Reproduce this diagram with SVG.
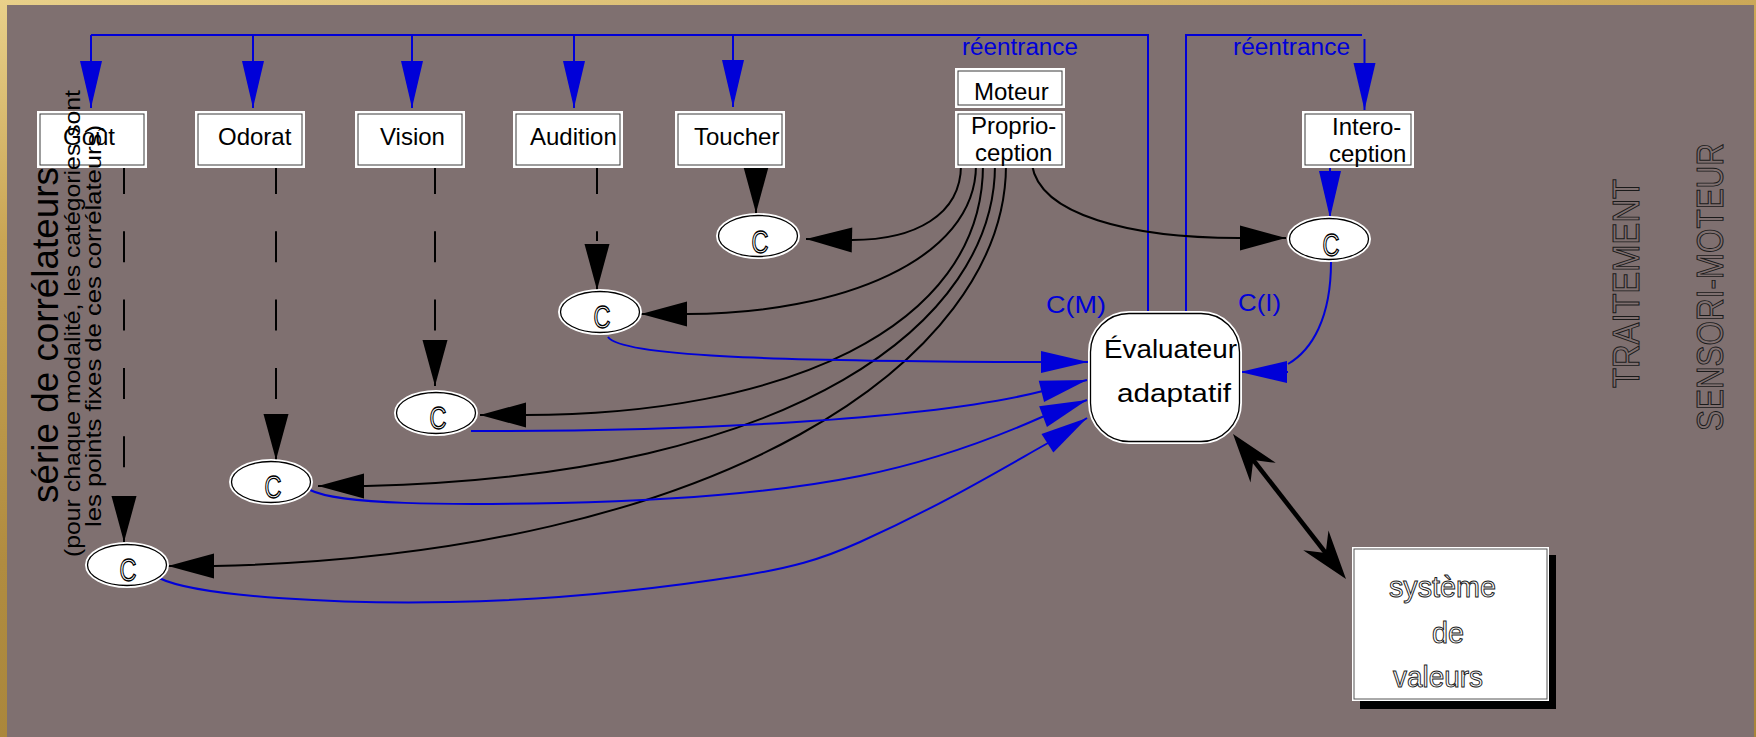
<svg xmlns="http://www.w3.org/2000/svg" width="1756" height="737" viewBox="0 0 1756 737">
  <defs>
    <linearGradient id="gold" x1="0" y1="0" x2="0.3" y2="1">
      <stop offset="0" stop-color="#e8d08a"/>
      <stop offset="0.3" stop-color="#c9a554"/>
      <stop offset="0.7" stop-color="#b08c40"/>
      <stop offset="1" stop-color="#a8853a"/>
    </linearGradient>
    <marker id="ah-blue" markerUnits="userSpaceOnUse" markerWidth="50" markerHeight="24" viewBox="-48 -12 50 24" refX="0" refY="0" orient="auto" overflow="visible">
      <path d="M-47,-11 L0,0 L-47,11 Z" fill="#0000d8"/>
    </marker>
    <marker id="ah-black" markerUnits="userSpaceOnUse" markerWidth="50" markerHeight="28" viewBox="-48 -14 50 28" refX="0" refY="0" orient="auto" overflow="visible">
      <path d="M-46,-12.5 L0,0 L-46,12.5 Z" fill="#000"/>
    </marker>
    <marker id="ah-barb" markerUnits="userSpaceOnUse" markerWidth="60" markerHeight="40" viewBox="-40 -20 60 40" refX="0" refY="0" orient="auto-start-reverse" overflow="visible">
      <path d="M12,0 L-37,-16 L-21,0 L-37,16 Z" fill="#000"/>
    </marker>
  </defs>
  <style>
    .txt { font-family: "Liberation Sans", Arial, sans-serif; fill: #000; }
    .lbl { font-size: 24px; }
    .box { fill: #fff; stroke: #fff; stroke-width: 2; }
    .frame { fill: none; stroke: #3a3a3a; stroke-width: 1; }
    .cell { fill: #fff; stroke: #fff; stroke-width: 2; }
    .cell-in { fill: none; stroke: #000; stroke-width: 1.3; }
    .cglyph { font-family: "Liberation Sans", Arial, sans-serif; font-size: 31px; fill: #fff; stroke: #000; stroke-width: 1.3; }
    .blue { fill: none; stroke: #0000d8; stroke-width: 2; }
    .blk { fill: none; stroke: #000; stroke-width: 2; }
    .dash { fill: none; stroke: #000; stroke-width: 2; stroke-dasharray: 31 37.3; }
    .bluetxt { font-family: "Liberation Sans", Arial, sans-serif; fill: #0000d8; }
    .outline { font-family: "Liberation Sans", Arial, sans-serif; fill: #fff; stroke: #222; stroke-width: 1; }
    .outline-bg { font-family: "Liberation Sans", Arial, sans-serif; fill: #7f7070; stroke: #1a1a1a; stroke-width: 1; }
  </style>

  <!-- frame and panel -->
  <rect x="0" y="0" width="1756" height="737" fill="url(#gold)"/>
  <rect x="7" y="5" width="1747" height="732" fill="#7f7070"/>

  <!-- connectors -->
  <g id="connectors">
    <!-- reentrance towards the sensory modalities -->
    <path class="blue" d="M1148,312 V35 H91"/>
    <path class="blue" d="M91,35 V108" marker-end="url(#ah-blue)"/>
    <path class="blue" d="M253,35 V108" marker-end="url(#ah-blue)"/>
    <path class="blue" d="M412,35 V108" marker-end="url(#ah-blue)"/>
    <path class="blue" d="M574,35 V108" marker-end="url(#ah-blue)"/>
    <path class="blue" d="M733,35 V107" marker-end="url(#ah-blue)"/>
    <!-- reentrance towards interoception -->
    <path class="blue" d="M1186,312 V35 H1362"/>
    <path class="blue" d="M1364.5,39 V110" marker-end="url(#ah-blue)"/>
    <path class="blue" d="M1330,167 V218" marker-end="url(#ah-blue)"/>

    <!-- modality boxes to their correlators (dashed) -->
    <path class="dash" d="M124,163 V469"/>
    <path class="blk" d="M124,497 V542" marker-end="url(#ah-black)"/>
    <path class="dash" d="M276,163 V400"/>
    <path class="blk" d="M276,414 V460" marker-end="url(#ah-black)"/>
    <path class="dash" d="M435,163 V332"/>
    <path class="blk" d="M435,342 V386" marker-end="url(#ah-black)"/>
    <path class="dash" d="M597,163 V241"/>
    <path class="blk" d="M597,244 V290" marker-end="url(#ah-black)"/>
    <path class="blk" d="M756,167 V213" marker-end="url(#ah-black)"/>

    <!-- proprioception to each correlator -->
    <path class="blk" d="M961,165 C961,215 915,240 852,240 L806,239" marker-end="url(#ah-black)"/>
    <path class="blk" d="M976,165 C976,260 840,314 687,314 L641,314" marker-end="url(#ah-black)"/>
    <path class="blk" d="M983,165 C983,330 780,415 525,415 L480,415" marker-end="url(#ah-black)"/>
    <path class="blk" d="M995,165 C995,320 800,476 366,486 L318,486" marker-end="url(#ah-black)"/>
    <path class="blk" d="M1006,165 C1006,360 720,555 214,566 L168,566" marker-end="url(#ah-black)"/>
    <path class="blk" d="M1032,165 C1040,215 1130,238 1239,238 L1286,238" marker-end="url(#ah-black)"/>

    <!-- correlators to the adaptive evaluator -->
    <path class="blue" d="M608,337 C622,356 760,361 1038,362 L1088,362" marker-end="url(#ah-blue)"/>
    <path class="blue" d="M471,431 C680,432 930,420 1043,391 L1087,380" marker-end="url(#ah-blue)"/>
    <path class="blue" d="M310,490 C340,505 450,505 560,503 C700,500 800,488 860,476 C930,462 990,440 1042,417 L1087,400" marker-end="url(#ah-blue)"/>
    <path class="blue" d="M159,578 C200,598 350,604 450,602 C560,600 650,590 740,576 C790,568 820,560 860,542 C940,506 1000,470 1048,443 L1087,418" marker-end="url(#ah-blue)"/>
    <path class="blue" d="M1331,262 C1331,318 1312,350 1288,364 M1288,372 L1240,372" marker-end="url(#ah-blue)"/>

    <!-- evaluator and value system -->
    <path d="M1240.4,443.5 L1338.6,569.5" fill="none" stroke="#000" stroke-width="4.5" marker-start="url(#ah-barb)" marker-end="url(#ah-barb)"/>
  </g>

  <!-- modality boxes -->
  <g id="gout">
    <rect class="box" x="38" y="112" width="108" height="55"/>
    <rect class="frame" x="40" y="114" width="104" height="51"/>
    <text class="txt lbl" x="63" y="145">Goût</text>
  </g>
  <g id="odorat">
    <rect class="box" x="196" y="112" width="108" height="55"/>
    <rect class="frame" x="198" y="114" width="104" height="51"/>
    <text class="txt lbl" x="218" y="145">Odorat</text>
  </g>
  <g id="vision">
    <rect class="box" x="356" y="112" width="108" height="55"/>
    <rect class="frame" x="358" y="114" width="104" height="51"/>
    <text class="txt lbl" x="380" y="145">Vision</text>
  </g>
  <g id="audition">
    <rect class="box" x="514" y="112" width="108" height="55"/>
    <rect class="frame" x="516" y="114" width="104" height="51"/>
    <text class="txt lbl" x="530" y="145">Audition</text>
  </g>
  <g id="toucher">
    <rect class="box" x="676" y="112" width="108" height="55"/>
    <rect class="frame" x="678" y="114" width="104" height="51"/>
    <text class="txt lbl" x="694" y="145">Toucher</text>
  </g>
  <g id="moteur">
    <rect class="box" x="956" y="69" width="108" height="38"/>
    <rect class="frame" x="958" y="71" width="104" height="34"/>
    <text class="txt lbl" x="974" y="100">Moteur</text>
  </g>
  <g id="proprioception">
    <rect class="box" x="956" y="112" width="108" height="55"/>
    <rect class="frame" x="958" y="114" width="104" height="51"/>
    <text class="txt lbl" x="971" y="134">Proprio-</text>
    <text class="txt lbl" x="975" y="161">ception</text>
  </g>
  <g id="interoception">
    <rect class="box" x="1303" y="112" width="110" height="55"/>
    <rect class="frame" x="1305" y="114" width="106" height="51"/>
    <text class="txt lbl" x="1332" y="135">Intero-</text>
    <text class="txt lbl" x="1329" y="162">ception</text>
  </g>

  <!-- correlators -->
  <g id="c-gout">
    <ellipse class="cell" cx="127" cy="565" rx="41" ry="22"/>
    <ellipse class="cell-in" cx="127" cy="565" rx="39.5" ry="20.5"/>
    <text class="cglyph" x="128" y="581" text-anchor="middle" textLength="17" lengthAdjust="spacingAndGlyphs">C</text>
  </g>
  <g id="c-odorat">
    <ellipse class="cell" cx="271" cy="482" rx="41" ry="22"/>
    <ellipse class="cell-in" cx="271" cy="482" rx="39.5" ry="20.5"/>
    <text class="cglyph" x="273" y="498" text-anchor="middle" textLength="17" lengthAdjust="spacingAndGlyphs">C</text>
  </g>
  <g id="c-vision">
    <ellipse class="cell" cx="436" cy="413" rx="41" ry="22"/>
    <ellipse class="cell-in" cx="436" cy="413" rx="39.5" ry="20.5"/>
    <text class="cglyph" x="438" y="429" text-anchor="middle" textLength="17" lengthAdjust="spacingAndGlyphs">C</text>
  </g>
  <g id="c-audition">
    <ellipse class="cell" cx="600" cy="312" rx="41" ry="22"/>
    <ellipse class="cell-in" cx="600" cy="312" rx="39.5" ry="20.5"/>
    <text class="cglyph" x="602" y="328" text-anchor="middle" textLength="17" lengthAdjust="spacingAndGlyphs">C</text>
  </g>
  <g id="c-toucher">
    <ellipse class="cell" cx="758" cy="236" rx="41" ry="22"/>
    <ellipse class="cell-in" cx="758" cy="236" rx="39.5" ry="20.5"/>
    <text class="cglyph" x="760" y="253" text-anchor="middle" textLength="17" lengthAdjust="spacingAndGlyphs">C</text>
  </g>
  <g id="c-intero">
    <ellipse class="cell" cx="1329" cy="239" rx="41" ry="22"/>
    <ellipse class="cell-in" cx="1329" cy="239" rx="39.5" ry="20.5"/>
    <text class="cglyph" x="1331" y="256" text-anchor="middle" textLength="17" lengthAdjust="spacingAndGlyphs">C</text>
  </g>

  <!-- adaptive evaluator -->
  <g id="evaluateur">
    <rect x="1089" y="312" width="152" height="131" rx="40" ry="40" fill="#fff" stroke="#fff" stroke-width="2"/>
    <rect x="1090.5" y="313.5" width="149" height="128" rx="38.5" ry="38.5" fill="none" stroke="#000" stroke-width="1.3"/>
    <text class="txt" x="1104" y="358" font-size="25" textLength="133" lengthAdjust="spacingAndGlyphs">Évaluateur</text>
    <text class="txt" x="1117" y="402" font-size="25" textLength="114" lengthAdjust="spacingAndGlyphs">adaptatif</text>
  </g>

  <!-- value system -->
  <g id="systeme-valeurs">
    <rect x="1360" y="555" width="196" height="154" fill="#000"/>
    <rect x="1352" y="547" width="197" height="154" fill="#fff"/>
    <rect x="1354" y="549" width="193" height="150" fill="none" stroke="#555" stroke-width="1"/>
    <text class="outline" x="1389" y="597" font-size="30" textLength="107" lengthAdjust="spacingAndGlyphs">système</text>
    <text class="outline" x="1432" y="643" font-size="30" textLength="32" lengthAdjust="spacingAndGlyphs">de</text>
    <text class="outline" x="1393" y="687" font-size="30" textLength="90" lengthAdjust="spacingAndGlyphs">valeurs</text>
  </g>

  <!-- connector labels -->
  <g id="labels">
    <text class="bluetxt" x="962" y="55" font-size="23" textLength="116" lengthAdjust="spacingAndGlyphs">réentrance</text>
    <text class="bluetxt" x="1233" y="55" font-size="23" textLength="117" lengthAdjust="spacingAndGlyphs">réentrance</text>
    <text class="bluetxt" x="1046" y="313" font-size="24" textLength="60" lengthAdjust="spacingAndGlyphs">C(M)</text>
    <text class="bluetxt" x="1238" y="311" font-size="24" textLength="43" lengthAdjust="spacingAndGlyphs">C(I)</text>
  </g>

  <!-- side captions -->
  <g id="caption-correlateurs">
    <text class="txt" transform="translate(58,335) rotate(-90)" font-size="36" text-anchor="middle" textLength="336" lengthAdjust="spacingAndGlyphs">série de corrélateurs</text>
    <text class="txt" transform="translate(80,323.5) rotate(-90)" font-size="22" text-anchor="middle" textLength="467" lengthAdjust="spacingAndGlyphs">(pour chaque modalité, les catégories sont</text>
    <text class="txt" transform="translate(101,326) rotate(-90)" font-size="22" text-anchor="middle" textLength="402" lengthAdjust="spacingAndGlyphs">les points fixes de ces corrélateurs)</text>
  </g>
  <g id="caption-traitement">
    <text class="outline-bg" transform="translate(1639,283.5) rotate(-90)" font-size="37" text-anchor="middle" textLength="209" lengthAdjust="spacingAndGlyphs">TRAITEMENT</text>
    <text class="outline-bg" transform="translate(1723,287) rotate(-90)" font-size="37" text-anchor="middle" textLength="288" lengthAdjust="spacingAndGlyphs">SENSORI-MOTEUR</text>
  </g>
</svg>
